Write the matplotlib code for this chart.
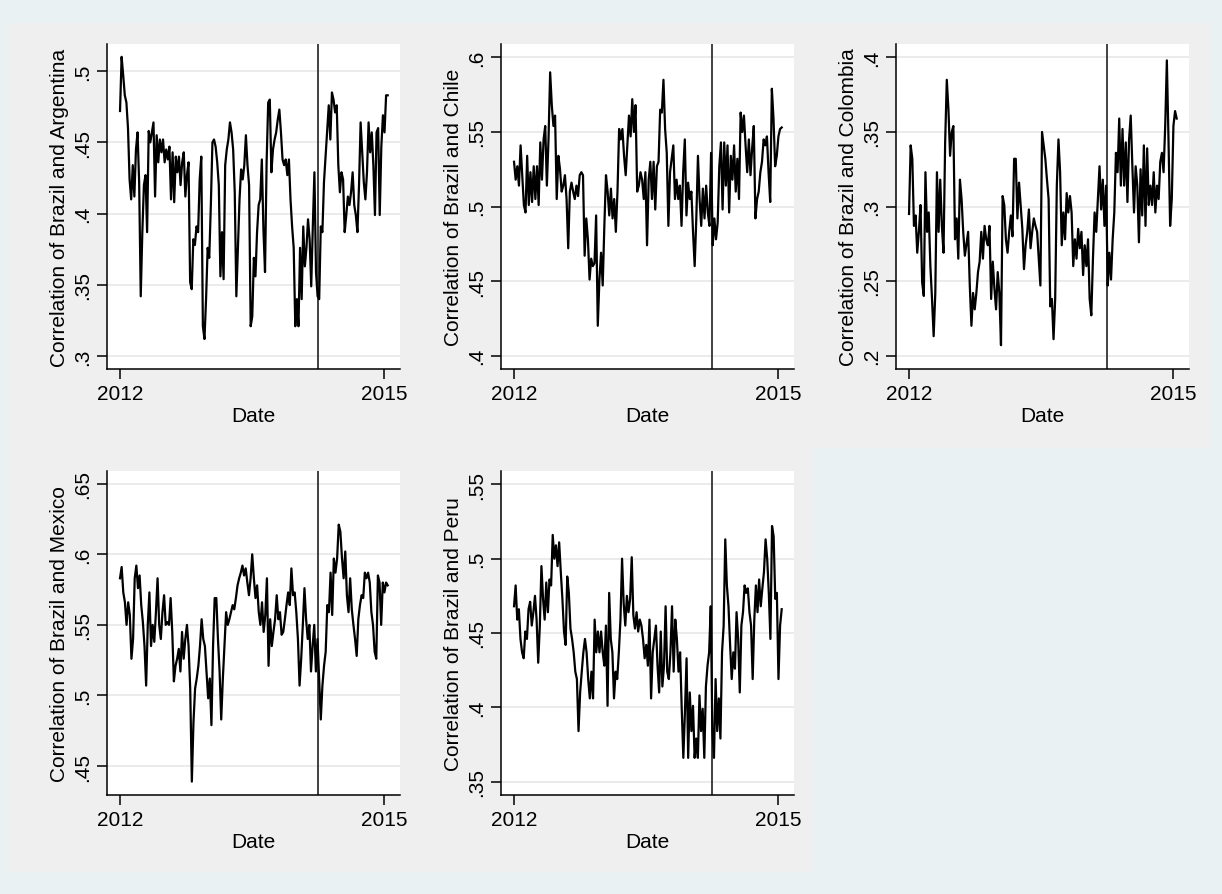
import matplotlib
matplotlib.use("Agg")
import matplotlib.pyplot as plt
import matplotlib.dates as mdates
import numpy as np
import pandas as pd
from matplotlib.patches import Rectangle
from matplotlib.ticker import FuncFormatter

plt.rcParams["font.family"] = ["Liberation Sans", "DejaVu Sans"]

# sample period and the break date marked with a vertical line
start_date = "2012-01-02"
end_date = "2015-01-16"
break_date = "2014-03-31"

argentina = [0.472, 0.51, 0.497, 0.483, 0.478, 0.46, 0.424, 0.41, 0.434, 0.412, 0.445, 0.457, 0.422,
             0.342, 0.387, 0.42, 0.427, 0.387, 0.458, 0.45, 0.457, 0.464, 0.412, 0.455, 0.436, 0.452,
             0.443, 0.452, 0.436, 0.445, 0.438, 0.447, 0.41, 0.443, 0.408, 0.44, 0.429, 0.44, 0.42,
             0.436, 0.443, 0.412, 0.427, 0.436, 0.352, 0.347, 0.382, 0.378, 0.391, 0.387, 0.424, 0.44,
             0.321, 0.312, 0.34, 0.376, 0.369, 0.406, 0.45, 0.452, 0.447, 0.436, 0.42, 0.356, 0.387,
             0.354, 0.434, 0.445, 0.452, 0.464, 0.457, 0.445, 0.415, 0.342, 0.376, 0.41, 0.431, 0.424,
             0.434, 0.455, 0.434, 0.42, 0.321, 0.328, 0.369, 0.356, 0.387, 0.406, 0.41, 0.438, 0.389,
             0.359, 0.436, 0.478, 0.48, 0.429, 0.445, 0.452, 0.457, 0.466, 0.473, 0.457, 0.438, 0.434,
             0.438, 0.427, 0.438, 0.41, 0.391, 0.376, 0.321, 0.34, 0.321, 0.376, 0.34, 0.391, 0.363,
             0.376, 0.396, 0.382, 0.349, 0.391, 0.429, 0.359, 0.342, 0.34, 0.391, 0.387, 0.422, 0.44,
             0.457, 0.476, 0.452, 0.485, 0.48, 0.471, 0.476, 0.434, 0.415, 0.429, 0.424, 0.387, 0.399,
             0.412, 0.406, 0.415, 0.429, 0.406, 0.399, 0.387, 0.42, 0.464, 0.443, 0.422, 0.41, 0.429,
             0.464, 0.443, 0.457, 0.434, 0.399, 0.457, 0.46, 0.399, 0.447, 0.469, 0.457, 0.483, 0.483]

chile = [0.53, 0.518, 0.527, 0.514, 0.541, 0.521, 0.501, 0.496, 0.534, 0.501, 0.523, 0.503, 0.527,
         0.505, 0.527, 0.501, 0.543, 0.518, 0.545, 0.554, 0.514, 0.545, 0.59, 0.568, 0.554, 0.561,
         0.505, 0.534, 0.525, 0.51, 0.514, 0.521, 0.505, 0.472, 0.51, 0.516, 0.51, 0.505, 0.514,
         0.507, 0.521, 0.523, 0.521, 0.467, 0.492, 0.478, 0.451, 0.465, 0.46, 0.462, 0.494, 0.42,
         0.451, 0.469, 0.447, 0.487, 0.521, 0.51, 0.494, 0.512, 0.492, 0.505, 0.483, 0.51, 0.552,
         0.545, 0.552, 0.534, 0.521, 0.541, 0.561, 0.547, 0.572, 0.55, 0.568, 0.51, 0.514, 0.523,
         0.518, 0.505, 0.523, 0.474, 0.518, 0.53, 0.505, 0.53, 0.498, 0.527, 0.53, 0.565, 0.563,
         0.585, 0.552, 0.536, 0.487, 0.523, 0.532, 0.541, 0.505, 0.518, 0.505, 0.514, 0.487, 0.523,
         0.545, 0.494, 0.516, 0.505, 0.51, 0.483, 0.46, 0.492, 0.534, 0.505, 0.487, 0.512, 0.492,
         0.514, 0.496, 0.487, 0.536, 0.474, 0.492, 0.478, 0.489, 0.527, 0.543, 0.498, 0.543, 0.514,
         0.541, 0.496, 0.534, 0.518, 0.541, 0.51, 0.532, 0.505, 0.563, 0.55, 0.561, 0.541, 0.523,
         0.545, 0.521, 0.539, 0.554, 0.492, 0.505, 0.51, 0.523, 0.53, 0.545, 0.541, 0.547, 0.523,
         0.503, 0.579, 0.559, 0.527, 0.534, 0.547, 0.552, 0.553]

colombia = [0.295, 0.341, 0.332, 0.287, 0.294, 0.269, 0.283, 0.301, 0.249, 0.24, 0.323, 0.283, 0.296,
            0.26, 0.238, 0.213, 0.242, 0.323, 0.283, 0.318, 0.287, 0.269, 0.343, 0.385, 0.365, 0.334,
            0.35, 0.354, 0.278, 0.292, 0.265, 0.318, 0.305, 0.283, 0.267, 0.275, 0.283, 0.247, 0.22,
            0.242, 0.231, 0.242, 0.256, 0.263, 0.283, 0.265, 0.287, 0.278, 0.274, 0.287, 0.238, 0.263,
            0.245, 0.231, 0.256, 0.242, 0.207, 0.307, 0.301, 0.278, 0.269, 0.283, 0.294, 0.28, 0.332,
            0.332, 0.292, 0.316, 0.301, 0.285, 0.258, 0.274, 0.283, 0.298, 0.272, 0.283, 0.292, 0.287,
            0.283, 0.265, 0.247, 0.35, 0.341, 0.332, 0.318, 0.305, 0.233, 0.238, 0.211, 0.238, 0.314,
            0.345, 0.323, 0.274, 0.296, 0.278, 0.309, 0.296, 0.307, 0.296, 0.26, 0.278, 0.265, 0.285,
            0.272, 0.283, 0.254, 0.274, 0.26, 0.278, 0.238, 0.227, 0.265, 0.296, 0.283, 0.305, 0.327,
            0.298, 0.318, 0.287, 0.314, 0.247, 0.269, 0.251, 0.278, 0.296, 0.336, 0.323, 0.359, 0.314,
            0.352, 0.314, 0.343, 0.303, 0.345, 0.361, 0.327, 0.296, 0.327, 0.314, 0.276, 0.325, 0.294,
            0.341, 0.287, 0.339, 0.301, 0.314, 0.301, 0.323, 0.296, 0.314, 0.305, 0.33, 0.336, 0.323,
            0.354, 0.398, 0.345, 0.287, 0.305, 0.354, 0.364, 0.359]

mexico = [0.583, 0.591, 0.573, 0.566, 0.55, 0.566, 0.557, 0.526, 0.54, 0.583, 0.592, 0.576, 0.585,
          0.564, 0.552, 0.535, 0.507, 0.55, 0.573, 0.535, 0.55, 0.538, 0.559, 0.583, 0.55, 0.54,
          0.559, 0.571, 0.55, 0.552, 0.55, 0.569, 0.545, 0.51, 0.521, 0.526, 0.533, 0.517, 0.545,
          0.526, 0.54, 0.55, 0.535, 0.505, 0.439, 0.481, 0.505, 0.512, 0.521, 0.535, 0.554, 0.54,
          0.535, 0.517, 0.498, 0.512, 0.479, 0.535, 0.569, 0.569, 0.54, 0.517, 0.483, 0.512, 0.535,
          0.559, 0.55, 0.554, 0.559, 0.564, 0.561, 0.569, 0.578, 0.583, 0.587, 0.592, 0.585, 0.59,
          0.58, 0.571, 0.583, 0.6, 0.583, 0.569, 0.578, 0.559, 0.55, 0.566, 0.545, 0.557, 0.583,
          0.521, 0.554, 0.535, 0.545, 0.554, 0.571, 0.554, 0.559, 0.543, 0.545, 0.554, 0.564, 0.573,
          0.564, 0.59, 0.571, 0.573, 0.559, 0.54, 0.507, 0.526, 0.55, 0.576, 0.554, 0.54, 0.55,
          0.517, 0.535, 0.55, 0.517, 0.54, 0.512, 0.483, 0.507, 0.521, 0.531, 0.564, 0.559, 0.587,
          0.557, 0.597, 0.587, 0.597, 0.621, 0.616, 0.597, 0.583, 0.602, 0.571, 0.559, 0.583, 0.561,
          0.55, 0.54, 0.528, 0.554, 0.564, 0.571, 0.569, 0.587, 0.583, 0.587, 0.58, 0.559, 0.55,
          0.531, 0.526, 0.585, 0.58, 0.55, 0.58, 0.573, 0.58, 0.578]

peru = [0.468, 0.482, 0.459, 0.466, 0.446, 0.437, 0.433, 0.451, 0.446, 0.466, 0.471, 0.455, 0.464,
        0.475, 0.459, 0.43, 0.455, 0.495, 0.473, 0.459, 0.484, 0.464, 0.486, 0.482, 0.516, 0.5,
        0.509, 0.495, 0.511, 0.491, 0.473, 0.451, 0.442, 0.488, 0.477, 0.453, 0.446, 0.437, 0.424,
        0.419, 0.384, 0.41, 0.424, 0.437, 0.446, 0.437, 0.419, 0.406, 0.424, 0.406, 0.459, 0.437,
        0.451, 0.437, 0.451, 0.437, 0.428, 0.455, 0.401, 0.477, 0.446, 0.437, 0.406, 0.424, 0.419,
        0.437, 0.459, 0.5, 0.47, 0.455, 0.475, 0.464, 0.473, 0.501, 0.462, 0.453, 0.464, 0.451,
        0.459, 0.455, 0.446, 0.433, 0.442, 0.428, 0.459, 0.406, 0.437, 0.446, 0.455, 0.428, 0.41,
        0.451, 0.414, 0.428, 0.468, 0.424, 0.419, 0.437, 0.468, 0.424, 0.459, 0.446, 0.424, 0.437,
        0.399, 0.366, 0.397, 0.433, 0.366, 0.41, 0.384, 0.401, 0.366, 0.379, 0.366, 0.408, 0.384,
        0.399, 0.366, 0.414, 0.428, 0.437, 0.468, 0.384, 0.366, 0.419, 0.384, 0.406, 0.379, 0.437,
        0.455, 0.513, 0.482, 0.468, 0.442, 0.419, 0.437, 0.426, 0.464, 0.446, 0.41, 0.455, 0.464,
        0.482, 0.477, 0.48, 0.464, 0.455, 0.419, 0.459, 0.482, 0.464, 0.486, 0.468, 0.48, 0.491,
        0.513, 0.5, 0.477, 0.446, 0.522, 0.515, 0.473, 0.477, 0.419, 0.455, 0.466]

series = [argentina, chile, colombia, mexico, peru]
ylabels = ["Correlation of Brazil and Argentina", "Correlation of Brazil and Chile",
           "Correlation of Brazil and Colombia", "Correlation of Brazil and Mexico",
           "Correlation of Brazil and Peru"]
yticks = [[0.3, 0.35, 0.4, 0.45, 0.5], [0.4, 0.45, 0.5, 0.55, 0.6], [0.2, 0.25, 0.3, 0.35, 0.4],
          [0.45, 0.5, 0.55, 0.6, 0.65], [0.35, 0.4, 0.45, 0.5, 0.55]]
ylims = [(0.291, 0.519), (0.391, 0.609), (0.191, 0.409), (0.4295, 0.659), (0.341, 0.559)]

W, H = 1222, 895
fig = plt.figure(figsize=(W / 100, H / 100), dpi=100)
fig.patch.set_facecolor("#eaf1f3")

# gray graph regions (pixel boxes: left, top, right, bottom)
regions = [(8, 24, 409, 449), (409, 24, 810, 449), (810, 24, 1210, 449),
           (8, 449, 409, 873), (409, 449, 813, 873)]
for l, t, r, b in regions:
    fig.add_artist(Rectangle((l / W, 1 - b / H), (r - l) / W, (b - t) / H,
                             transform=fig.transFigure, facecolor="#efefef",
                             edgecolor="none", zorder=-10))

# plot areas in pixels (left, top, right, bottom)
boxes = [(107, 45, 400, 370), (501, 45, 794, 370), (896, 45, 1189, 370),
         (107, 472, 400, 796), (501, 472, 794, 796)]

fmt = FuncFormatter(lambda v, p: f"{v:g}".replace("0.", ".", 1))

for vals, lab, yt, yl, (l, t, r, b) in zip(series, ylabels, yticks, ylims, boxes):
    ax = fig.add_axes([l / W, 1 - b / H, (r - l) / W, (b - t) / H])
    ax.set_facecolor("white")
    dates = pd.date_range(start_date, end_date, periods=len(vals))
    ax.plot(dates, vals, color="black", lw=1.6, zorder=3)
    ax.axvline(pd.Timestamp(break_date), color="#333333", lw=1.3, zorder=2)
    ax.set_xlim(pd.Timestamp("2011-11-09"), pd.Timestamp("2015-03-08"))
    ax.set_xticks([pd.Timestamp("2012-01-01"), pd.Timestamp("2015-01-01")])
    ax.xaxis.set_major_formatter(mdates.DateFormatter("%Y"))
    ax.set_ylim(*yl)
    ax.set_yticks(yt)
    ax.yaxis.set_major_formatter(fmt)
    ax.grid(axis="y", color="#e6e6e6", lw=1.1, zorder=1)
    ax.set_axisbelow(True)
    for s in ["top", "right"]:
        ax.spines[s].set_visible(False)
    for s in ["left", "bottom"]:
        ax.spines[s].set_linewidth(1.1)
    ax.tick_params(direction="out", length=7, width=1.1, labelsize=15, pad=4)
    for tl in ax.get_yticklabels():
        tl.set_rotation(90)
        tl.set_va("center")
    ax.set_xlabel("Date", fontsize=15, labelpad=2)
    ax.set_ylabel(lab, fontsize=15, labelpad=3)

fig.savefig("out.png", dpi=100, facecolor=fig.get_facecolor())
